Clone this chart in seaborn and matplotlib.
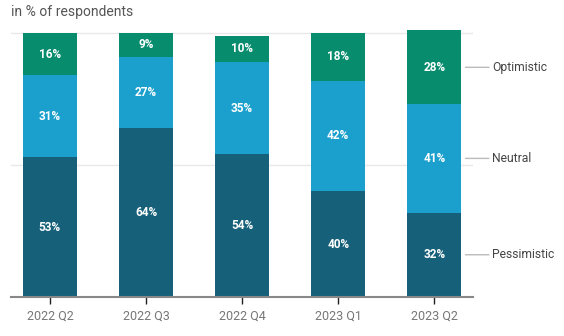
import matplotlib
matplotlib.use("Agg")
import matplotlib.pyplot as plt
import seaborn as sns
import pandas as pd

quarters = ["2022 Q2", "2022 Q3", "2022 Q4", "2023 Q1", "2023 Q2"]
pessimistic = [53, 64, 54, 40, 32]
neutral = [31, 27, 35, 42, 41]
optimistic = [16, 9, 10, 18, 28]

series_names = ["Pessimistic", "Neutral", "Optimistic"]
colors = {"Pessimistic": "#176079", "Neutral": "#1ba0cd", "Optimistic": "#078c6e"}

sns.set_theme(style="white")
plt.rcParams["font.family"] = ["Roboto", "DejaVu Sans"]

df = pd.DataFrame({
    "quarter": quarters,
    "Pessimistic": pessimistic,
    "Neutral": neutral,
    "Optimistic": optimistic,
})
df["cum_p"] = df["Pessimistic"]
df["cum_n"] = df["cum_p"] + df["Neutral"]
df["cum_o"] = df["cum_n"] + df["Optimistic"]

fig = plt.figure(figsize=(5.64, 3.36), dpi=100)
ax = fig.add_axes([11 / 564, 1 - 297 / 336, 461.5 / 564, (102 * 2.64) / 336])

# stacked bars: draw cumulative totals from the top segment down
width = 0.56
for col, name in [("cum_o", "Optimistic"), ("cum_n", "Neutral"), ("cum_p", "Pessimistic")]:
    sns.barplot(data=df, x="quarter", y=col, color=colors[name], width=width,
                saturation=1, ax=ax, linewidth=0, order=quarters)

ax.set_xlim(-0.405, 4.397)
ax.set_ylim(0, 102)

# segment labels
for i, q in enumerate(quarters):
    bottoms = [0, pessimistic[i], pessimistic[i] + neutral[i]]
    vals = [pessimistic[i], neutral[i], optimistic[i]]
    for b, v in zip(bottoms, vals):
        ax.text(i, b + v / 2, f"{v}%", ha="center", va="center", color="white",
                fontsize=8.5, fontweight="bold")

# series labels with connectors next to the last bar
last = len(quarters) - 1
bottoms = [0, pessimistic[last], pessimistic[last] + neutral[last]]
vals = [pessimistic[last], neutral[last], optimistic[last]]
for name, b, v in zip(series_names, bottoms, vals):
    y = b + v / 2
    ax.annotate(name, xy=(last + width / 2, y), xycoords="data",
                xytext=(31, 0), textcoords="offset pixels",
                ha="left", va="center", fontsize=8.7, color="#444444",
                arrowprops=dict(arrowstyle="-", color="#bbbbbb", lw=1,
                                shrinkA=0, shrinkB=3),
                annotation_clip=False)

# gridlines and axes
ax.set_yticks([50, 100])
ax.yaxis.grid(True, color="#e8e8e8", linewidth=1)
ax.set_axisbelow(True)
ax.tick_params(axis="y", left=False, labelleft=False)
ax.tick_params(axis="x", bottom=True, length=5, width=1, color="#222222",
               labelsize=9, labelcolor="#777777", pad=4)
for s in ["top", "right", "left"]:
    ax.spines[s].set_visible(False)
ax.spines["bottom"].set_color("#888888")
ax.spines["bottom"].set_linewidth(1.5)
ax.set_xlabel("")
ax.set_ylabel("")

fig.text(11 / 564, 1 - 12 / 336, "in % of respondents", ha="left", va="center",
         fontsize=10, color="#555555")

fig.savefig("out.png", dpi=100)
